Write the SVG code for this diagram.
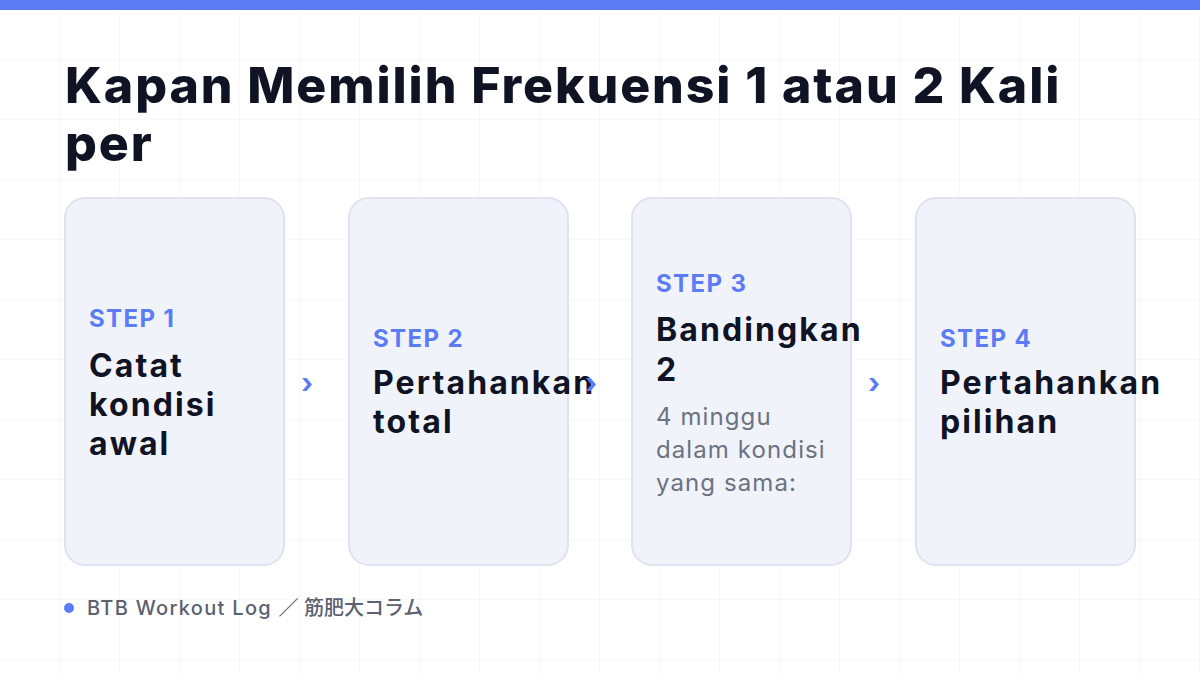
<svg xmlns="http://www.w3.org/2000/svg" width="1200" height="675" viewBox="0 0 1200 675">
<defs>
<pattern id="grid" width="60" height="60" patternUnits="userSpaceOnUse">
<path d="M60 0V60M0 60H60" fill="none" stroke="#f0f1f5" stroke-width="1"/>
</pattern>
</defs>
<style>
.title{font-family:Inter,"Noto Sans",sans-serif;font-weight:800;font-size:50px;letter-spacing:1.9px;fill:#0f1324}
.card{fill:#f1f3fb;stroke:#dfe3ef;stroke-width:2}
.step{font-family:Inter,"Noto Sans",sans-serif;font-weight:700;font-size:24px;letter-spacing:1.4px;fill:#5b7cf5}
.head{font-family:Inter,"Noto Sans",sans-serif;font-weight:700;font-size:32px;letter-spacing:2.1px;fill:#0f1324}
.desc{font-family:Inter,"Noto Sans",sans-serif;font-weight:400;font-size:24px;letter-spacing:1.1px;fill:#6b7280}
.arrow{font-family:Inter,"Noto Sans",sans-serif;font-weight:700;font-size:28px;fill:#5b7cf5}
.foot{font-family:Inter,"Noto Sans CJK JP",sans-serif;font-weight:500;font-size:20px;letter-spacing:1.3px;fill:#5b6170}
.cjk{letter-spacing:0}
</style>
<rect width="1200" height="675" fill="#ffffff"/>
<rect width="1200" height="675" fill="url(#grid)"/>
<rect width="1200" height="10" fill="#5b7cf5"/>
<g id="title">
<text class="title" x="65" y="103">Kapan Memilih Frekuensi 1 atau 2 Kali</text>
<text class="title" x="65" y="161">per</text>
</g>
<g id="step1">
<rect class="card" x="65" y="198" width="219" height="367" rx="20"/>
<text class="step" x="89" y="327">STEP 1</text>
<text class="head" x="89" y="377">Catat</text>
<text class="head" x="89" y="416">kondisi</text>
<text class="head" x="89" y="455">awal</text>
</g>
<g id="step2">
<rect class="card" x="349" y="198" width="219" height="367" rx="20"/>
<text class="step" x="373" y="347">STEP 2</text>
<text class="head" x="373" y="394">Pertahankan</text>
<text class="head" x="373" y="433">total</text>
</g>
<g id="step3">
<rect class="card" x="632" y="198" width="219" height="367" rx="20"/>
<text class="step" x="656" y="292">STEP 3</text>
<text class="head" x="656" y="341">Bandingkan</text>
<text class="head" x="656" y="381">2</text>
<text class="desc" x="656" y="425">4 minggu</text>
<text class="desc" x="656" y="458">dalam kondisi</text>
<text class="desc" x="656" y="491">yang sama:</text>
</g>
<g id="step4">
<rect class="card" x="916" y="198" width="219" height="367" rx="20"/>
<text class="step" x="940" y="347">STEP 4</text>
<text class="head" x="940" y="394">Pertahankan</text>
<text class="head" x="940" y="433">pilihan</text>
</g>
<g id="connectors">
<text class="arrow" x="307" y="393" text-anchor="middle">›</text>
<text class="arrow" x="591" y="393" text-anchor="middle">›</text>
<text class="arrow" x="874" y="393" text-anchor="middle">›</text>
</g>
<g id="footer">
<circle cx="69" cy="608" r="5" fill="#5b7cf5"/>
<text class="foot" x="87" y="615">BTB Workout Log <tspan class="cjk">／ 筋肥大コラム</tspan></text>
</g>
</svg>
